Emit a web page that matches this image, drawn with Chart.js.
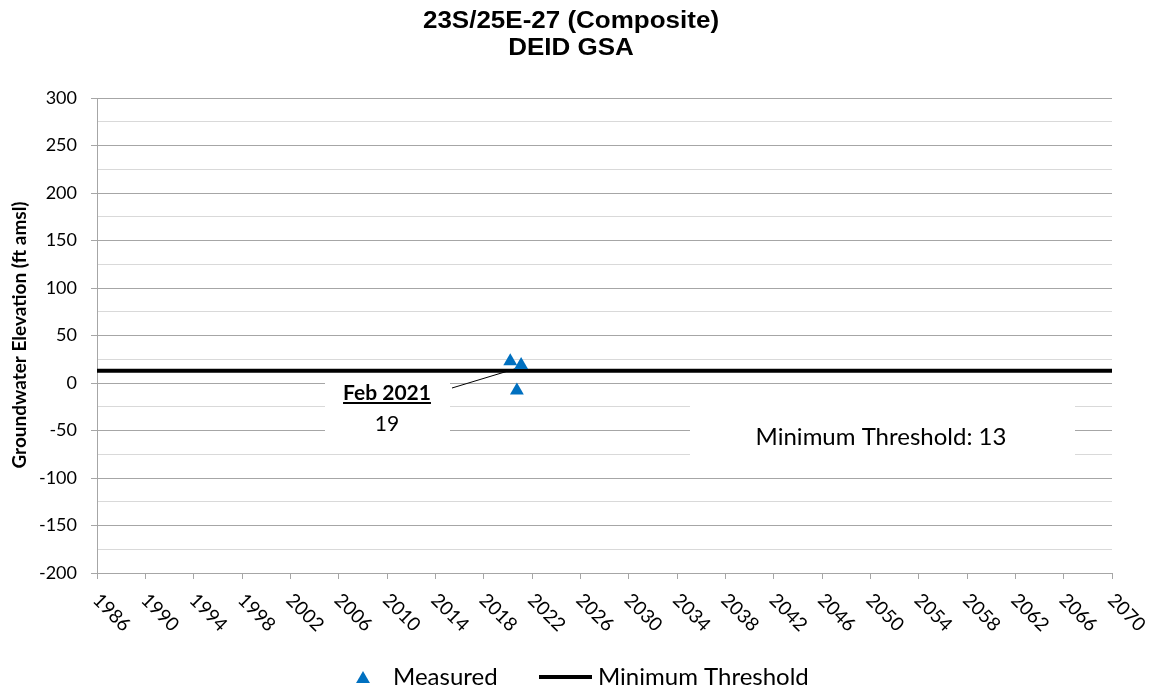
<!DOCTYPE html>
<html><head><meta charset="utf-8">
<script src="https://cdn.jsdelivr.net/npm/chart.js@4"></script>
<style>html,body{margin:0;padding:0;background:#fff}</style>
</head><body>
<canvas id="c" width="1151" height="692"></canvas>
<script>
const titleLines = ['23S/25E-27 (Composite)', 'DEID GSA'];
const yAxisTitle = 'Groundwater Elevation (ft amsl)';
const measuredYears = [2020.2, 2020.75, 2021.1];
const measuredValues = [23, -8, 19];
const thresholdYears = [1986, 2070];
const thresholdValues = [13, 13];
const xTickYears = [1986,1990,1994,1998,2002,2006,2010,2014,2018,2022,2026,2030,2034,2038,2042,2046,2050,2054,2058,2062,2066,2070];
const yTickValues = [-200,-175,-150,-125,-100,-75,-50,-25,0,25,50,75,100,125,150,175,200,225,250,275,300];
const yLabelStep = 50;
const calloutTitle = 'Feb 2021';
const calloutValue = '19';
const calloutIndex = 2;
const thresholdText = 'Minimum Threshold: 13';
const legendLabels = ['Measured', 'Minimum Threshold'];

const BLUE = '#0070C0';
const MAJOR = '#a6a6a6', MINOR = '#d9d9d9';

function drawTri(ctx, x, y, r) {
  ctx.beginPath();
  let a = 0;
  ctx.moveTo(x + Math.sin(a) * r, y - Math.cos(a) * r);
  a += 2 * Math.PI / 3;
  ctx.lineTo(x + Math.sin(a) * r, y - Math.cos(a) * r);
  a += 2 * Math.PI / 3;
  ctx.lineTo(x + Math.sin(a) * r, y - Math.cos(a) * r);
  ctx.closePath();
  ctx.fill();
}

const decor = {
  id: 'decor',
  beforeDatasetsDraw(chart) {
    const ctx = chart.ctx;
    const xs = chart.scales.x, ys = chart.scales.y;
    ctx.save();
    ctx.fillStyle = '#fff';
    ctx.fillRect(325, 376, 125, 64);
    ctx.fillRect(690, 397, 385, 66);
    const px = xs.getPixelForValue(measuredYears[calloutIndex]);
    const py = ys.getPixelForValue(measuredValues[calloutIndex]);
    ctx.strokeStyle = '#000';
    ctx.lineWidth = 1;
    ctx.beginPath();
    ctx.moveTo(452, 388);
    ctx.lineTo(px - 3, py + 3);
    ctx.stroke();
    ctx.restore();
  },
  afterDraw(chart) {
    const ctx = chart.ctx;
    const xs = chart.scales.x;
    ctx.save();
    ctx.fillStyle = '#000';
    ctx.font = 'bold 23px "Liberation Sans", Arial, sans-serif';
    ctx.textAlign = 'center';
    ctx.textBaseline = 'alphabetic';
    [[titleLines[0], 28], [titleLines[1], 55]].forEach(([t, y]) => {
      ctx.save();
      ctx.translate(571, y);
      ctx.scale(1.13, 1);
      ctx.fillText(t, 0, 0);
      ctx.restore();
    });
    ctx.save();
    ctx.translate(20, 335);
    ctx.rotate(-Math.PI / 2);
    ctx.font = 'bold 19px Lato, sans-serif';
    ctx.textAlign = 'center';
    ctx.textBaseline = 'middle';
    ctx.fillText(yAxisTitle, 0, 0);
    ctx.restore();
    ctx.font = '19px Lato, sans-serif';
    ctx.textAlign = 'left';
    ctx.textBaseline = 'middle';
    xTickYears.forEach(v => {
      const px = xs.getPixelForValue(v);
      ctx.save();
      ctx.translate(px - 1, 597);
      ctx.rotate(Math.PI / 4);
      ctx.fillText(String(v), 0, 0);
      ctx.restore();
    });
    ctx.textAlign = 'center';
    ctx.textBaseline = 'alphabetic';
    ctx.font = 'bold 21px Lato, sans-serif';
    ctx.fillText(calloutTitle, 387, 400);
    const w = ctx.measureText(calloutTitle).width;
    ctx.fillRect(387 - w / 2, 402, w, 2);
    ctx.font = '21px Lato, sans-serif';
    ctx.fillText(calloutValue, 387, 431);
    ctx.font = '24px Lato, sans-serif';
    ctx.fillText(thresholdText, 881, 445);
    ctx.fillStyle = BLUE;
    drawTri(ctx, 363, 679, 8);
    ctx.fillStyle = '#000';
    ctx.textAlign = 'left';
    ctx.textBaseline = 'middle';
    ctx.font = '24px Lato, sans-serif';
    ctx.fillText(legendLabels[0], 393, 677);
    ctx.fillRect(539, 675, 53, 4);
    ctx.fillText(legendLabels[1], 598, 677);
    ctx.restore();
  }
};

new Chart(document.getElementById('c'), {
  type: 'scatter',
  data: {
    datasets: [
      {
        label: legendLabels[0],
        data: measuredYears.map((x, i) => ({ x, y: measuredValues[i] })),
        pointStyle: 'triangle',
        pointRadius: 8,
        pointHoverRadius: 8,
        backgroundColor: BLUE,
        borderColor: BLUE,
        borderWidth: 0,
        showLine: false,
        order: 0
      },
      {
        label: legendLabels[1],
        data: thresholdYears.map((x, i) => ({ x, y: thresholdValues[i] })),
        showLine: true,
        borderColor: '#000',
        backgroundColor: '#000',
        borderWidth: 4,
        pointRadius: 0,
        pointHoverRadius: 0,
        order: 1
      }
    ]
  },
  options: {
    responsive: false,
    animation: false,
    events: [],
    layout: { padding: { top: 98, right: 39, left: 0, bottom: 0 } },
    plugins: { legend: { display: false }, tooltip: { enabled: false }, title: { display: false } },
    scales: {
      x: {
        type: 'linear',
        min: xTickYears[0],
        max: xTickYears[xTickYears.length - 1],
        afterBuildTicks: s => { s.ticks = xTickYears.map(v => ({ value: v })); },
        ticks: { display: false },
        grid: { drawOnChartArea: false, drawTicks: true, tickLength: 6, color: MAJOR, tickColor: MAJOR },
        border: { color: MAJOR, width: 1 },
        afterFit: s => { s.height = 119; }
      },
      y: {
        min: yTickValues[0],
        max: yTickValues[yTickValues.length - 1],
        afterBuildTicks: s => { s.ticks = yTickValues.map(v => ({ value: v })); },
        ticks: {
          autoSkip: false,
          padding: 14,
          color: '#000',
          font: { family: 'Lato', size: 18 },
          callback: v => (v % yLabelStep === 0 ? String(v) : '')
        },
        grid: {
          color: c => (c.tick && c.tick.value % yLabelStep === 0 ? MAJOR : MINOR),
          tickColor: c => (c.tick && c.tick.value % yLabelStep === 0 ? MAJOR : 'rgba(0,0,0,0)'),
          tickLength: 6,
          lineWidth: 1
        },
        border: { color: MAJOR, width: 1 },
        afterFit: s => { s.width = 97; }
      }
    }
  },
  plugins: [decor]
});
</script>
</body></html>
